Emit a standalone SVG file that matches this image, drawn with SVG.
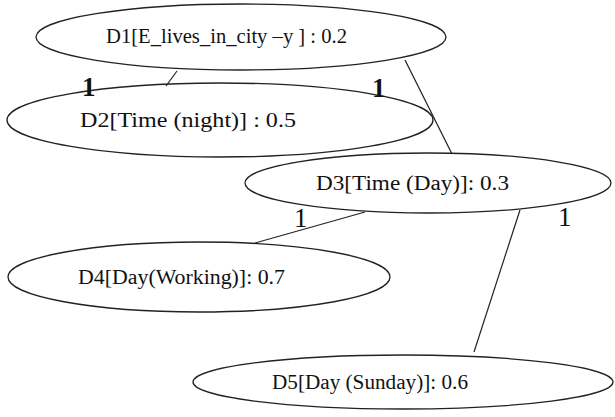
<svg xmlns="http://www.w3.org/2000/svg" width="615" height="417" viewBox="0 0 615 417">
  <style>
    .node ellipse { fill: none; stroke: #222; stroke-width: 1.3; }
    .node text { font-family: "Liberation Serif", "Times New Roman", serif; font-size: 20px; fill: #111; }
    .edges line { stroke: #222; stroke-width: 1.2; }
    .lbl { font-family: "Liberation Serif", "Times New Roman", serif; font-size: 27px; fill: #111; }
    .lbl.b { font-weight: bold; }
  </style>
  <rect width="615" height="417" fill="#fff"/>

  <g class="edges">
    <line x1="177" y1="71" x2="166" y2="86"/>
    <line x1="405" y1="60" x2="452" y2="154"/>
    <line x1="365" y1="212" x2="255" y2="243"/>
    <line x1="520" y1="210" x2="474" y2="352"/>
  </g>

  <g id="D1" class="node">
    <ellipse cx="241" cy="37" rx="205" ry="33"/>
    <text x="106" y="43" textLength="241" lengthAdjust="spacingAndGlyphs">D1[E_lives_in_city –y ] : 0.2</text>
  </g>
  <g id="D2" class="node">
    <ellipse cx="220" cy="120" rx="213" ry="37"/>
    <text x="80" y="127" textLength="216" lengthAdjust="spacingAndGlyphs">D2[Time (night)] : 0.5</text>
  </g>
  <g id="D3" class="node">
    <ellipse cx="428" cy="183" rx="183" ry="30"/>
    <text x="316" y="190" textLength="193" lengthAdjust="spacingAndGlyphs">D3[Time (Day)]: 0.3</text>
  </g>
  <g id="D4" class="node">
    <ellipse cx="199" cy="277" rx="191" ry="35"/>
    <text x="78" y="284" textLength="207" lengthAdjust="spacingAndGlyphs">D4[Day(Working)]: 0.7</text>
  </g>
  <g id="D5" class="node">
    <ellipse cx="403" cy="382" rx="210" ry="27"/>
    <text x="272" y="389" textLength="196" lengthAdjust="spacingAndGlyphs">D5[Day (Sunday)]: 0.6</text>
  </g>

  <g class="edge-labels">
    <text class="lbl b" x="82" y="96">1</text>
    <text class="lbl b" x="372" y="97">1</text>
    <text class="lbl" x="294" y="227">1</text>
    <text class="lbl" x="558" y="226">1</text>
  </g>
</svg>
